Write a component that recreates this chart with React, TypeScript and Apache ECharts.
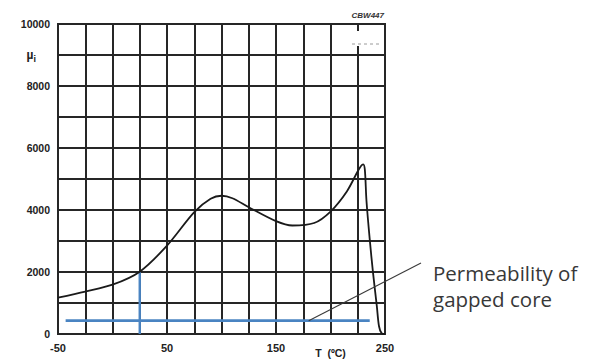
import React, { useEffect, useRef } from "react";
import * as echarts from "echarts";

const temps = [-50, -25, 0, 25, 50, 75, 90, 100, 110, 125, 150, 165, 185, 200, 215, 225, 228, 230, 231.5, 233, 236, 239, 242.5, 244.5, 247, 250];
const permeability = [1170, 1370, 1590, 2010, 2850, 3930, 4360, 4460, 4380, 4090, 3640, 3500, 3580, 3950, 4600, 5250, 5420, 5470, 5300, 4300, 3050, 1980, 900, 250, 20, 0];

const markerT = 25;
const markerMu = 2010;
const gappedMu = 430;
const gappedRange = [-43, 236];
const xLabelValues = [-50, 50, 150, 250];
const yLabelValues = [0, 2000, 4000, 6000, 8000, 10000];

export default function App() {
  const ref = useRef<HTMLDivElement>(null);
  useEffect(() => {
    document.body.style.margin = "0";
    if (!ref.current) return;
    const chart = echarts.init(ref.current, null, { renderer: "svg" });
    const gridColor = "#262626";
    const labelFont = { fontFamily: "Liberation Sans, Arial, sans-serif", fontSize: 11, fontWeight: "bold" as const, color: "#222" };
    chart.setOption({
      animation: false,
      backgroundColor: "#ffffff",
      grid: { left: 58, right: 205, top: 24, bottom: 25, show: true, borderColor: gridColor, borderWidth: 2, outerBoundsMode: "none", containLabel: false },
      xAxis: {
        type: "value",
        min: -50,
        max: 250,
        interval: 25,
        axisLine: { show: false },
        axisTick: { show: false },
        splitLine: { show: true, lineStyle: { color: gridColor, width: 2 } },
        axisLabel: {
          ...labelFont,
          margin: 8,
          formatter: (v: number) => (xLabelValues.includes(v) ? String(v) : v === 200 ? "{t|T  (ºC)}" : ""),
          rich: { t: { ...labelFont, fontSize: 10.5, padding: [5, 0, 0, 0] } },
        },
      },
      yAxis: {
        type: "value",
        min: 0,
        max: 10000,
        interval: 1000,
        axisLine: { show: false },
        axisTick: { show: false },
        splitLine: { show: true, lineStyle: { color: gridColor, width: 2 } },
        axisLabel: {
          ...labelFont,
          fontSize: 10.5,
          margin: 8,
          formatter: (v: number) => (yLabelValues.includes(v) ? String(v) : v === 9000 ? "{mu|µ}{sub|i}" : ""),
          rich: {
            mu: { fontFamily: "Liberation Sans, Arial, sans-serif", color: "#222", fontSize: 12 },
            sub: { fontFamily: "Liberation Sans, Arial, sans-serif", color: "#222", fontSize: 9, padding: [7, 14, 0, 0] },
          },
        },
      },
      series: [
        {
          type: "line",
          data: temps.map((t, i) => [t, permeability[i]]),
          smooth: 0.3,
          showSymbol: false,
          lineStyle: { color: "#1a1a1a", width: 1.8 },
          z: 5,
        },
        {
          type: "line",
          data: [[markerT, 0], [markerT, markerMu]],
          showSymbol: false,
          lineStyle: { color: "#4a84c2", width: 2.4 },
          z: 4,
        },
        {
          type: "line",
          data: [[gappedRange[0], gappedMu], [gappedRange[1], gappedMu]],
          showSymbol: false,
          lineStyle: { color: "#4a84c2", width: 2.6 },
          z: 4,
        },
      ],
    });
    const start = chart.convertToPixel({ gridIndex: 0 }, [180, gappedMu]) as number[];
    chart.setOption({
      graphic: [
        { type: "rect", shape: { x: 351, y: 31, width: 32, height: 15 }, style: { fill: "#ffffff" }, z: 100 },
        { type: "line", shape: { x1: 352, y1: 44, x2: 382, y2: 44 }, style: { stroke: "#9a9a9a", lineWidth: 1, lineDash: [3, 3] }, z: 101 },
        { type: "line", shape: { x1: start[0], y1: start[1], x2: 421, y2: 263 }, style: { stroke: "#3a3a3a", lineWidth: 1.1 }, z: 101 },
        { type: "text", x: 384, y: 15, style: { text: "CBW447", font: "italic bold 8px Liberation Sans, Arial, sans-serif", fill: "#333", align: "right", verticalAlign: "middle" }, z: 101 },
        { type: "text", x: 433, y: 273, style: { text: "Permeability of", font: "20.5px 'Open Sans', sans-serif", fill: "#383838", align: "left", verticalAlign: "middle" }, z: 101 },
        { type: "text", x: 433, y: 299, style: { text: "gapped core", font: "20.5px 'Open Sans', sans-serif", fill: "#383838", align: "left", verticalAlign: "middle" }, z: 101 },
      ],
    });
    return () => chart.dispose();
  }, []);
  return <div ref={ref} style={{ width: 590, height: 359 }} />;
}
